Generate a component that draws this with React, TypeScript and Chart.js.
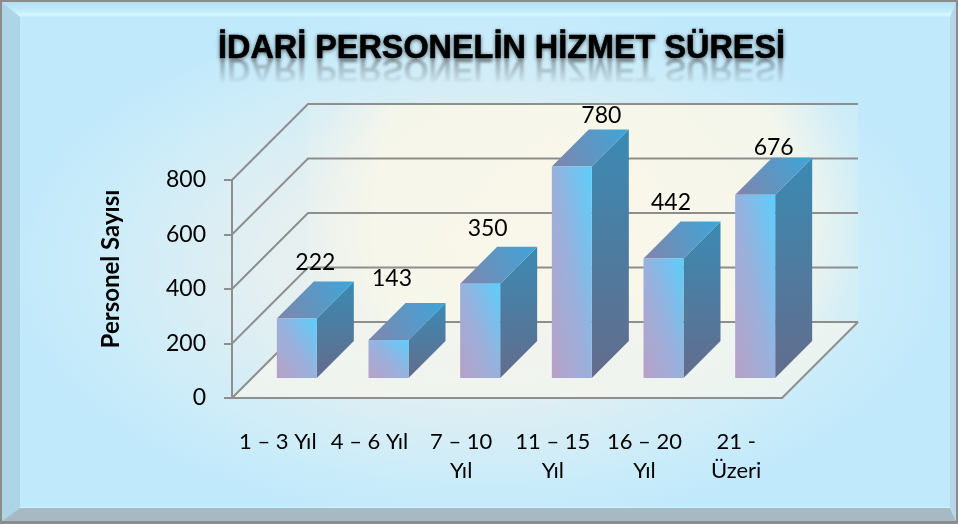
import React, { useEffect, useRef } from 'react';
import { Chart, registerables } from 'chart.js';

Chart.register(...registerables);

const chartTitle = 'İDARİ PERSONELİN HİZMET SÜRESİ';
const yAxisTitle = 'Personel Sayısı';
const categories: (string | string[])[] = [
  '1 – 3 Yıl',
  '4 – 6 Yıl',
  ['7 – 10', 'Yıl'],
  ['11 – 15', 'Yıl'],
  ['16 – 20', 'Yıl'],
  ['21 -', 'Üzeri'],
];
const staffCounts = [222, 143, 350, 780, 442, 676];
const yTickValues = [0, 200, 400, 600, 800];
// small manual nudges of the data labels (style only)
const labelNudgeX = [0, -15, -11, 11, -11, 0];
const labelNudgeY = [-1, -6, 0, 4, -1, 8];

const W = 958;
const H = 524;
const DEPTH = 76;
const BAR_OFFSET = 19;
const BAR_DEPTH = 37;
const GRID = '#8e8e8e';
const FONT = 'Lato, "Open Sans", sans-serif';

function drawPanel(ctx: CanvasRenderingContext2D) {
  ctx.save();
  ctx.fillStyle = '#8c8c8c';
  ctx.fillRect(0, 0, W, H);
  const L = 2, T = 2, R = 956, B = 521;
  const il = 20, it = 17, ir = 950, ib = 508;
  ctx.save();
  ctx.beginPath();
  ctx.rect(L, T, R - L, B - T);
  ctx.clip();
  ctx.translate(480, 265);
  ctx.scale(1, 0.56);
  const rg = ctx.createRadialGradient(0, 0, 0, 0, 0, 480);
  rg.addColorStop(0, '#f2f3e9');
  rg.addColorStop(0.45, '#e4eff1');
  rg.addColorStop(0.8, '#cbecf9');
  rg.addColorStop(1, '#c0e9fc');
  ctx.fillStyle = rg;
  ctx.fillRect(-500, -500, 1000, 1000);
  ctx.restore();
  const poly = (pts: number[][], fill: string | CanvasGradient) => {
    ctx.beginPath();
    ctx.moveTo(pts[0][0], pts[0][1]);
    for (let i = 1; i < pts.length; i++) ctx.lineTo(pts[i][0], pts[i][1]);
    ctx.closePath();
    ctx.fillStyle = fill;
    ctx.fill();
  };
  const tg = ctx.createLinearGradient(0, T, 0, it);
  tg.addColorStop(0, '#b3dff3');
  tg.addColorStop(0.6, '#c2ecfb');
  tg.addColorStop(0.85, '#d6f8ff');
  tg.addColorStop(1, '#c4ecfb');
  poly([[L, T], [R, T], [ir, it], [il, it]], tg);
  poly([[L, T], [il, it], [il, ib], [L, B]], '#aed5e5');
  poly([[L, B], [il, ib], [ir, ib], [R, B]], '#a5bac2');
  poly([[R, T], [R, B], [ir, ib], [ir, it]], '#b6d8e6');
  ctx.fillStyle = '#d2f2fc';
  ctx.fillRect(il, ib - 1, ir - il, 1);
  ctx.restore();
}

const threeD = {
  id: 'threeD',
  beforeDraw(chart: any) {
    const ctx: CanvasRenderingContext2D = chart.ctx;
    drawPanel(ctx);
    const { left, right, top, bottom } = chart.chartArea;
    const ys = chart.scales.y;
    const bx0 = left + DEPTH;
    const bx1 = right + DEPTH;
    const by0 = top - DEPTH;
    const by1 = bottom - DEPTH;
    ctx.save();
    const wg = ctx.createRadialGradient((bx0 + bx1) / 2, (by0 + by1) / 2, 10, (bx0 + bx1) / 2, (by0 + by1) / 2, (bx1 - bx0) / 2);
    wg.addColorStop(0, 'rgba(249,247,234,1)');
    wg.addColorStop(0.75, 'rgba(248,247,234,0.9)');
    wg.addColorStop(1, 'rgba(245,246,236,0.2)');
    ctx.fillStyle = wg;
    ctx.fillRect(bx0, by0, bx1 - bx0, by1 - by0);
    ctx.beginPath();
    ctx.moveTo(left, bottom);
    ctx.lineTo(right, bottom);
    ctx.lineTo(bx1, by1);
    ctx.lineTo(bx0, by1);
    ctx.closePath();
    ctx.fillStyle = 'rgba(244,246,238,0.75)';
    ctx.fill();
    ctx.strokeStyle = GRID;
    ctx.lineWidth = 2;
    yTickValues.forEach((v) => {
      const py = ys.getPixelForValue(v);
      ctx.beginPath();
      ctx.moveTo(left, py);
      ctx.lineTo(left + DEPTH, py - DEPTH);
      ctx.lineTo(right + DEPTH, py - DEPTH);
      ctx.stroke();
    });
    const p0 = ys.getPixelForValue(0);
    ctx.beginPath();
    ctx.moveTo(right, p0);
    ctx.lineTo(right + DEPTH, p0 - DEPTH);
    ctx.stroke();
    ctx.restore();
  },
  afterDatasetsDraw(chart: any) {
    const ctx: CanvasRenderingContext2D = chart.ctx;
    const meta = chart.getDatasetMeta(0);
    const o = BAR_OFFSET;
    const d = BAR_DEPTH;
    ctx.save();
    meta.data.forEach((el: any, i: number) => {
      const { x, y, base, width } = el.getProps(['x', 'y', 'base', 'width'], true);
      const x0 = x - width / 2 + o;
      const x1 = x + width / 2 + o;
      const yt = y - o;
      const yb = base - o;
      const h = yb - yt;
      const sg = ctx.createLinearGradient(0, yt - d, 0, yb);
      sg.addColorStop(0, '#3a8ab3');
      sg.addColorStop(1, '#636c8c');
      ctx.beginPath();
      ctx.moveTo(x1, yt);
      ctx.lineTo(x1 + d, yt - d);
      ctx.lineTo(x1 + d, yb - d);
      ctx.lineTo(x1, yb);
      ctx.closePath();
      ctx.fillStyle = sg;
      ctx.fill();
      const tg = ctx.createLinearGradient(x0, yt, x1 + d, yt - d);
      tg.addColorStop(0, '#8085ab');
      tg.addColorStop(1, '#3da6da');
      ctx.beginPath();
      ctx.moveTo(x0, yt);
      ctx.lineTo(x0 + d, yt - d);
      ctx.lineTo(x1 + d, yt - d);
      ctx.lineTo(x1, yt);
      ctx.closePath();
      ctx.fillStyle = tg;
      ctx.fill();
      ctx.save();
      ctx.translate(x0, yt);
      ctx.scale(x1 - x0, h);
      const fg = ctx.createLinearGradient(0, 1, 1, 0);
      fg.addColorStop(0, '#b8a0c6');
      fg.addColorStop(0.5, '#98b1dd');
      fg.addColorStop(1, '#5ccefc');
      ctx.fillStyle = fg;
      ctx.fillRect(0, 0, 1, 1);
      ctx.restore();
      ctx.fillStyle = '#000';
      ctx.font = `23px ${FONT}`;
      ctx.textAlign = 'center';
      ctx.textBaseline = 'middle';
      ctx.fillText(
        String(staffCounts[i]),
        x0 + (x1 - x0) / 2 + d / 2 + labelNudgeX[i],
        yt - d - 18 + labelNudgeY[i]
      );
    });
    ctx.restore();
  },
  afterDraw(chart: any) {
    const ctx: CanvasRenderingContext2D = chart.ctx;
    const tf = 'bold 33px "Liberation Sans", Arial, sans-serif';
    ctx.save();
    ctx.font = tf;
    const tw = ctx.measureText(chartTitle).width;
    const sx = 567 / tw;
    const cx = 501.5;
    const baseY = 58;
    const off = document.createElement('canvas');
    off.width = W;
    off.height = 40;
    const oc = off.getContext('2d')!;
    oc.font = tf;
    oc.textAlign = 'center';
    oc.textBaseline = 'alphabetic';
    oc.save();
    oc.translate(cx, 0);
    oc.scale(sx, -1);
    oc.fillStyle = '#4a4a4a';
    oc.filter = 'blur(1px)';
    oc.fillText(chartTitle, 0, 0);
    oc.restore();
    oc.globalCompositeOperation = 'destination-in';
    const rg = oc.createLinearGradient(0, 0, 0, 26);
    rg.addColorStop(0, 'rgba(0,0,0,0.45)');
    rg.addColorStop(1, 'rgba(0,0,0,0)');
    oc.fillStyle = rg;
    oc.fillRect(0, 0, W, 40);
    ctx.drawImage(off, 0, baseY + 1);
    ctx.translate(cx, baseY);
    ctx.scale(sx, 1);
    ctx.textAlign = 'center';
    ctx.textBaseline = 'alphabetic';
    ctx.shadowColor = 'rgba(0,0,0,0.65)';
    ctx.shadowBlur = 4;
    ctx.shadowOffsetY = 1;
    ctx.fillStyle = '#000';
    ctx.fillText(chartTitle, 0, 0);
    ctx.shadowColor = 'rgba(0,0,0,0)';
    ctx.strokeStyle = '#000';
    ctx.lineWidth = 0.6;
    ctx.strokeText(chartTitle, 0, 0);
    ctx.restore();
    ctx.save();
    ctx.translate(111, 269);
    ctx.rotate(-Math.PI / 2);
    ctx.font = `bold 24px ${FONT}`;
    ctx.fillStyle = '#000';
    ctx.textAlign = 'center';
    ctx.textBaseline = 'middle';
    ctx.fillText(yAxisTitle, 0, 0);
    ctx.restore();
  },
};

export default function App() {
  const ref = useRef<HTMLCanvasElement | null>(null);
  useEffect(() => {
    if (!ref.current) return;
    const chart = new Chart(ref.current, {
      type: 'bar',
      data: {
        labels: categories,
        datasets: [
          {
            data: staffCounts,
            backgroundColor: 'rgba(0,0,0,0)',
            borderWidth: 0,
            barThickness: 40,
          },
        ],
      },
      options: {
        animation: false,
        responsive: false,
        devicePixelRatio: 1,
        layout: { padding: { top: 180, right: 176, left: 0, bottom: 0 } },
        plugins: {
          legend: { display: false },
          title: { display: false },
          tooltip: { enabled: false },
        },
        scales: {
          x: {
            grid: { display: false, drawTicks: false },
            border: { display: true, color: GRID, width: 2 },
            ticks: {
              color: '#000',
              font: { family: FONT, size: 22, lineHeight: 1.3 },
              padding: 30,
              maxRotation: 0,
              autoSkip: false,
            },
            afterFit: (s: any) => {
              s.height = 126;
            },
          },
          y: {
            min: 0,
            max: 800,
            afterBuildTicks: (s: any) => {
              s.ticks = yTickValues.map((v) => ({ value: v }));
            },
            grid: {
              drawOnChartArea: false,
              drawTicks: true,
              tickLength: 8,
              color: GRID,
              lineWidth: 2,
            },
            border: { display: true, color: GRID, width: 2 },
            ticks: {
              color: '#000',
              font: { family: FONT, size: 23 },
              padding: 18,
            },
            afterFit: (s: any) => {
              s.width = 232;
            },
          },
        },
      },
      plugins: [threeD],
    });
    return () => chart.destroy();
  }, []);
  return (
    <div style={{ position: 'absolute', left: 0, top: 0, width: W, height: H }}>
      <canvas ref={ref} width={W} height={H} style={{ display: 'block' }} />
    </div>
  );
}
